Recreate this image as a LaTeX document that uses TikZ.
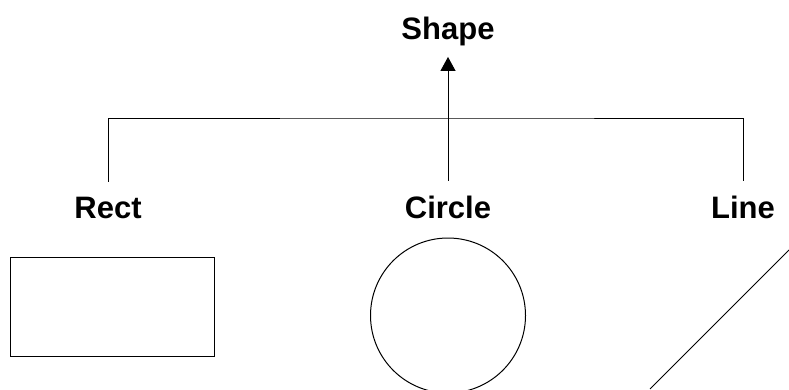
\documentclass[tikz,border=0pt]{standalone}
\usepackage{fontspec}
\setmainfont{Liberation Sans}
\usepackage{tikz}
\usetikzlibrary{arrows.meta,positioning}

\tikzset{
  lbl/.style={anchor=base, inner sep=0pt, outer sep=15pt, font=\fontsize{31}{37}\selectfont\bfseries},
}

\begin{document}
\begin{tikzpicture}[x=1pt, y=-1pt, line width=1pt]
        \useasboundingbox (0,0) rectangle (789,389);
        \clip (0,0) rectangle (789,389);
        \node[lbl, outer sep=11.5pt] (shape) at (448,39) {Shape};
        \node[lbl] (rect) at (108,218) {Rect};
        \node[lbl] (circ) at (448,218) {Circle};
        \node[lbl] (line) at (743,218) {Line};
        \coordinate (bar) at (448,118);
        \draw (rect.north) |- (bar) -| (line.north);
        \draw[-{Triangle[width=15pt, length=14pt]}] (circ.north) -- (shape.south);
        \draw (10,257) rectangle (214,356);
        \draw (448,315.5) circle[radius=77.5];
        \draw (650,389) -- (789,250);
    \end{tikzpicture}
\end{document}
